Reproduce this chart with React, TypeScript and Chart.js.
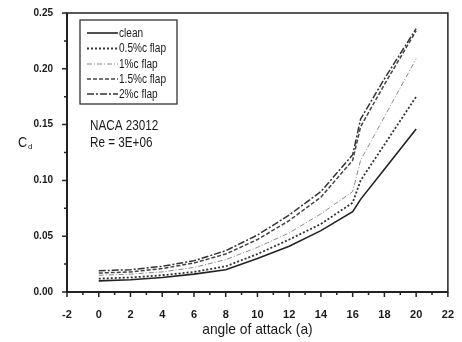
import React, { useEffect, useRef } from "react";
import { Chart, registerables } from "chart.js";

Chart.register(...registerables);

const angles = [0, 2, 4, 6, 8, 10, 12, 14, 16, 16.5, 18, 20];
const clean = [0.010, 0.011, 0.013, 0.016, 0.020, 0.030, 0.041, 0.055, 0.072, 0.083, 0.110, 0.146];
const flap05 = [0.012, 0.013, 0.015, 0.018, 0.023, 0.034, 0.047, 0.061, 0.080, 0.100, 0.132, 0.175];
const flap1 = [0.015, 0.016, 0.018, 0.022, 0.029, 0.040, 0.053, 0.070, 0.090, 0.118, 0.157, 0.209];
const flap15 = [0.017, 0.018, 0.021, 0.026, 0.034, 0.047, 0.064, 0.085, 0.118, 0.148, 0.186, 0.234];
const flap2 = [0.019, 0.020, 0.023, 0.028, 0.037, 0.051, 0.069, 0.090, 0.123, 0.155, 0.191, 0.236];

const seriesLabels = ["clean", "0.5%c flap", "1%c flap", "1.5%c flap", "2%c flap"];
const seriesValues = [clean, flap05, flap1, flap15, flap2];
const seriesColors = ["#222222", "#333333", "#8a8a8a", "#444444", "#333333"];
const seriesDashes: number[][] = [[], [2, 2], [5, 2, 1, 2], [4, 2], [7, 2, 2, 2]];
const seriesWidths = [1.6, 1.8, 1.0, 1.5, 1.5];

const xTickMin = -2;
const xTickMax = 22;
const yTickMin = 0;
const yTickMax = 0.25;

const FONT = "'Liberation Sans', Arial, sans-serif";

function narrowText(ctx: CanvasRenderingContext2D, text: string, x: number, y: number, sx: number) {
  ctx.save();
  ctx.translate(x, y);
  ctx.scale(sx, 1);
  ctx.fillText(text, 0, 0);
  ctx.restore();
}

const decorPlugin = {
  id: "decor",
  afterDraw(chart: any) {
    const ctx = chart.ctx as CanvasRenderingContext2D;
    const { left, right, top, bottom } = chart.chartArea;
    const xs = chart.scales.x;
    const ys = chart.scales.y;
    ctx.save();
    // frame
    ctx.strokeStyle = "#222";
    ctx.lineWidth = 1.5;
    ctx.strokeRect(left, top, right - left, bottom - top);
    ctx.lineWidth = 2;
    ctx.beginPath();
    ctx.moveTo(left, top);
    ctx.lineTo(left, bottom);
    ctx.lineTo(right, bottom);
    ctx.stroke();
    // ticks
    ctx.lineWidth = 1.5;
    ctx.beginPath();
    for (let v = xTickMin; v <= xTickMax; v += 1) {
      const px = xs.getPixelForValue(v);
      const len = v % 2 === 0 ? 5 : 3;
      ctx.moveTo(px, bottom);
      ctx.lineTo(px, bottom + len);
    }
    for (let i = 0; i <= 10; i++) {
      const v = yTickMin + i * 0.025;
      const py = ys.getPixelForValue(v);
      const len = i % 2 === 0 ? 5 : 3;
      ctx.moveTo(left, py);
      ctx.lineTo(left - len, py);
    }
    ctx.stroke();

    // axis titles
    ctx.fillStyle = "#1a1a1a";
    ctx.textAlign = "center";
    ctx.textBaseline = "middle";
    ctx.font = `15px ${FONT}`;
    ctx.save();
    ctx.translate((left + right) / 2, 330);
    ctx.scale(0.92, 1);
    ctx.fillText("angle of attack (a)", 0, 0);
    ctx.restore();
    ctx.textAlign = "left";
    ctx.font = `15px ${FONT}`;
    narrowText(ctx, "C", 18, 143, 0.85);
    ctx.font = `8px ${FONT}`;
    ctx.fillText("d", 28, 147);

    // legend box
    ctx.lineWidth = 1.3;
    ctx.strokeStyle = "#333";
    ctx.strokeRect(80, 20, 97, 84);
    const rowY = [33, 48.5, 64, 79, 94];
    for (let i = 0; i < seriesLabels.length; i++) {
      ctx.save();
      ctx.strokeStyle = seriesColors[i];
      ctx.lineWidth = seriesWidths[i];
      ctx.setLineDash(seriesDashes[i]);
      ctx.beginPath();
      ctx.moveTo(87, rowY[i]);
      ctx.lineTo(118, rowY[i]);
      ctx.stroke();
      ctx.restore();
      ctx.fillStyle = "#1a1a1a";
      ctx.font = `12px ${FONT}`;
      ctx.textAlign = "left";
      narrowText(ctx, seriesLabels[i], 119, rowY[i] + 0.5, 0.84);
    }

    // annotation
    ctx.font = `15px ${FONT}`;
    narrowText(ctx, "NACA 23012", 90, 126, 0.78);
    narrowText(ctx, "Re = 3E+06", 90, 143, 0.78);
    ctx.restore();
  },
};

export default function App() {
  const ref = useRef<HTMLCanvasElement | null>(null);
  useEffect(() => {
    document.body.style.margin = "0";
    if (!ref.current) return;
    const chart = new Chart(ref.current, {
      type: "line",
      data: {
        datasets: seriesLabels.map((label, i) => ({
          label,
          data: angles.map((a, j) => ({ x: a, y: seriesValues[i][j] })),
          borderColor: seriesColors[i],
          borderWidth: seriesWidths[i],
          borderDash: seriesDashes[i],
          pointRadius: 0,
          fill: false,
          tension: 0,
        })),
      },
      options: {
        responsive: false,
        animation: false,
        devicePixelRatio: 1,
        layout: { padding: { top: 13, right: 8, left: 0, bottom: 0 } },
        plugins: { legend: { display: false }, tooltip: { enabled: false } },
        scales: {
          x: {
            type: "linear",
            min: xTickMin,
            max: xTickMax,
            grid: { display: false },
            border: { display: false },
            ticks: {
              stepSize: 2,
              padding: 8,
              color: "#1a1a1a",
              font: { family: FONT, size: 11, weight: "bold" },
            },
            afterFit: (s: any) => {
              s.height = 50;
            },
          },
          y: {
            type: "linear",
            min: yTickMin,
            max: yTickMax,
            grid: { display: false },
            border: { display: false },
            ticks: {
              stepSize: 0.05,
              padding: 6,
              color: "#1a1a1a",
              font: { family: FONT, size: 10, weight: "bold" },
              callback: (v: any) => Number(v).toFixed(2),
            },
            afterFit: (s: any) => {
              s.width = 67;
            },
          },
        },
      },
      plugins: [decorPlugin],
    });
    return () => chart.destroy();
  }, []);
  return (
    <div style={{ position: "absolute", left: 0, top: 0, width: 462, height: 342, background: "#fff" }}>
      <canvas ref={ref} width={462} height={342} />
    </div>
  );
}
